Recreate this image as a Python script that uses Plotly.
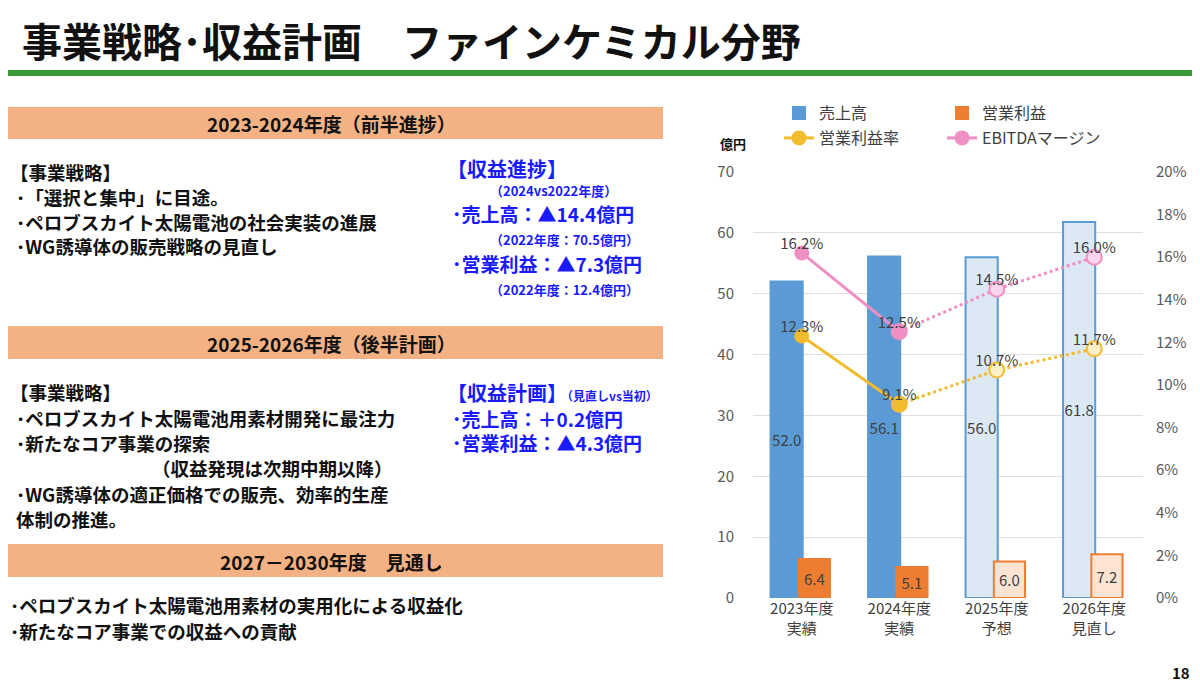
import plotly.graph_objects as go

W, H = 1200, 686

categories = ["2023年度<br>実績", "2024年度<br>実績", "2025年度<br>予想", "2026年度<br>見直し"]
sales = [52.0, 56.1, 56.0, 61.8]
op_profit = [6.4, 5.1, 6.0, 7.2]
op_margin = [12.3, 9.1, 10.7, 11.7]
ebitda_margin = [16.2, 12.5, 14.5, 16.0]

FONT = "Noto Sans CJK JP"
BLUE = "#5b9bd5"
ORANGE = "#ed7d31"
YELLOW = "#f2bc2e"
PINK = "#f08fc4"
OFF = 8  # page body margin


def px(x):
    return (x - OFF) / W


def py(y):
    return 1 - (y - OFF) / H


fig = go.Figure()

# bars: actual vs plan styles
bar_fill = [BLUE, BLUE, "#dde8f5", "#dde8f5"]
op_fill = [ORANGE, ORANGE, "#fde4d2", "#fde4d2"]
fig.add_trace(go.Bar(x=categories, y=sales, name="売上高", marker=dict(color=bar_fill, line=dict(color=BLUE, width=2)),
                     offset=-0.32, width=0.33, text=[f"{v:.1f}" for v in sales], textposition="inside",
                     insidetextanchor="middle", textfont=dict(color="#404040", size=15), textangle=0,
                     constraintext="none", legend="legend"))
fig.add_trace(go.Bar(x=categories, y=op_profit, name="営業利益", marker=dict(color=op_fill, line=dict(color=ORANGE, width=2)),
                     offset=-0.03, width=0.32, text=[f"{v:.1f}" for v in op_profit], textposition="inside",
                     insidetextanchor="middle", textfont=dict(color="#404040", size=15), textangle=0,
                     constraintext="none", legend="legend"))

# margin lines: solid for actuals, dotted for plans
for vals, name, col, light in [(op_margin, "営業利益率", YELLOW, "#fdf0c8"), (ebitda_margin, "EBITDAマージン", PINK, "#fbd5ec")]:
    fig.add_trace(go.Scatter(x=categories[1:], y=vals[1:], yaxis="y2", mode="lines+markers", showlegend=False,
                             line=dict(color=col, width=3, dash="dot"),
                             marker=dict(size=15, color=light, line=dict(color=col, width=2))))
    fig.add_trace(go.Scatter(x=categories[:2], y=vals[:2], yaxis="y2", mode="lines+markers", name=name,
                             line=dict(color=col, width=3), marker=dict(size=15, color=col), legend="legend2"))
    fig.add_trace(go.Scatter(x=categories, y=vals, yaxis="y2", mode="text", showlegend=False,
                             text=[f"{v:.1f}%" for v in vals], textposition="top center",
                             textfont=dict(color="#404040", size=15)))

legend_style = dict(orientation="h", xanchor="left", yanchor="middle", entrywidth=118,
                    font=dict(size=16, color="#404040"), bgcolor="rgba(0,0,0,0)")

fig.update_layout(
    width=W, height=H, margin=dict(l=0, r=0, t=0, b=0), paper_bgcolor="white", plot_bgcolor="white",
    font=dict(family=FONT, color="#595959"), barmode="overlay",
    xaxis=dict(domain=[px(753), px(1143)], tickfont=dict(size=15, color="#404040"), showline=False, automargin=False),
    yaxis=dict(domain=[py(598), py(172)], range=[0, 70], dtick=10, gridcolor="#e0e0e0",
               tickfont=dict(size=15), ticklabelstandoff=18, zeroline=False, automargin=False),
    yaxis2=dict(overlaying="y", side="right", range=[0, 20], dtick=2, ticksuffix="%", showgrid=False,
                tickfont=dict(size=15), ticklabelstandoff=12, automargin=False),
    legend=dict(x=px(779), y=py(113), **legend_style),
    legend2=dict(x=px(779), y=py(138), **legend_style),
    showlegend=True,
)

shapes = [dict(type="line", xref="paper", yref="paper", x0=0, x1=1, y0=py(73), y1=py(73),
               line=dict(color="#3a9a3a", width=6))]
for y0, y1 in [(107, 139), (326, 359), (544, 577)]:
    shapes.append(dict(type="rect", xref="paper", yref="paper", x0=0, x1=px(663), y0=py(y1), y1=py(y0),
                       fillcolor="#f4b183", line=dict(width=0)))
fig.update_layout(shapes=shapes)


def note(x, y, text, size=18.5, color="#111111", anchor="left", bold=True):
    if bold:
        text = f"<b>{text}</b>"
    fig.add_annotation(xref="paper", yref="paper", x=px(x), y=py(y), text=text, showarrow=False,
                       xanchor=anchor, yanchor="middle", font=dict(size=size, color=color, family=FONT))


note(20, 40, "事業戦略･収益計画　ファインケミカル分野", size=40)
note(331, 123, "2023-2024年度（前半進捗）", size=19, anchor="center")
note(331, 343, "2025-2026年度（後半計画）", size=19, anchor="center")
note(331, 561, "2027－2030年度　見通し", size=19, anchor="center")

note(8, 172, "【事業戦略】")
note(14, 197, "･「選択と集中」に目途。")
note(14, 222, "･ペロブスカイト太陽電池の社会実装の進展")
note(14, 246, "･WG誘導体の販売戦略の見直し")

BL = "#1a1aff"
note(445, 168, "【収益進捗】", size=20, color=BL)
note(488, 190, "（2024vs2022年度）", size=13, color=BL)
note(450, 213, "･売上高：▲14.4億円", size=19, color=BL)
note(488, 240, "（2022年度：70.5億円）", size=13, color=BL)
note(450, 263, "･営業利益：▲7.3億円", size=19, color=BL)
note(488, 289, "（2022年度：12.4億円）", size=13, color=BL)

note(8, 392, "【事業戦略】")
note(14, 418, "･ペロブスカイト太陽電池用素材開発に最注力")
note(14, 443, "･新たなコア事業の探索")
note(150, 468, "（収益発現は次期中期以降）")
note(14, 494, "･WG誘導体の適正価格での販売、効率的生産")
note(14, 519, "体制の推進。")

note(445, 392, "【収益計画】<span style='font-size:12px'>（見直しvs当初）</span>", size=20, color=BL)
note(450, 418, "･売上高：＋0.2億円", size=19, color=BL)
note(450, 442, "･営業利益：▲4.3億円", size=19, color=BL)

note(8, 605, "･ペロブスカイト太陽電池用素材の実用化による収益化")
note(8, 631, "･新たなコア事業での収益への貢献")

note(718, 143, "億円", size=13)
note(1192, 672, "18", size=15, anchor="right")

fig.write_html("out.html")
